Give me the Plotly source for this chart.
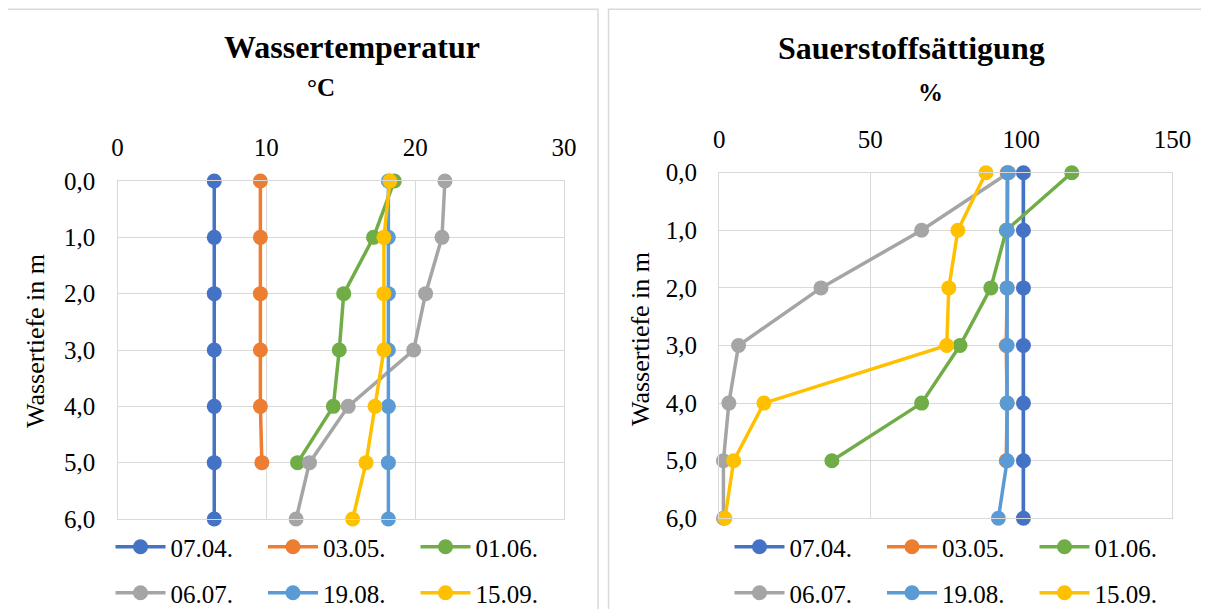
import plotly.graph_objects as go

W, H = 1209, 609

# ---- data ----
depth = [0, 1, 2, 3, 4, 5, 6]
depth_ticks = [0, 1, 2, 3, 4, 5, 6]
series_names = ["07.04.", "03.05.", "01.06.", "06.07.", "19.08.", "15.09."]
colors = ["#4472C4", "#ED7D31", "#70AD47", "#A5A5A5", "#5B9BD5", "#FFC000"]

# Wassertemperatur (°C)
temp_0704 = [6.5, 6.5, 6.5, 6.5, 6.5, 6.5, 6.5]
temp_0305 = [9.6, 9.6, 9.6, 9.6, 9.6, 9.7]
temp_0106 = [18.6, 17.2, 15.2, 14.9, 14.5, 12.1]
temp_0607 = [22.0, 21.8, 20.7, 19.9, 15.5, 12.9, 12.0]
temp_1908 = [18.2, 18.2, 18.2, 18.2, 18.2, 18.2, 18.2]
temp_1509 = [18.3, 17.9, 17.9, 17.9, 17.3, 16.7, 15.8]

# Sauerstoffsättigung (%)
oxy_0704 = [100.7, 100.7, 100.7, 100.7, 100.7, 100.7, 100.7]
oxy_0305 = [95.3, 95.3, 95.3, 95.0, 95.3, 95.0]
oxy_0106 = [116.7, 95.0, 89.9, 79.7, 67.0, 37.3]
oxy_0607 = [95.8, 67.0, 33.7, 6.4, 3.2, 1.4, 1.4]
oxy_1908 = [95.5, 95.3, 95.3, 95.3, 95.3, 95.3, 92.4]
oxy_1509 = [88.3, 79.0, 76.0, 75.3, 14.8, 4.8, 1.9]

temp_series = [temp_0704, temp_0305, temp_0106, temp_0607, temp_1908, temp_1509]
oxy_series = [oxy_0704, oxy_0305, oxy_0106, oxy_0607, oxy_1908, oxy_1509]

FONT = "Liberation Serif"
GRID = "#d9d9d9"
OFF = 8  # page body margin in the browser

def px(x):
    return (x - OFF) / W

def py(y):
    return (H - (y - OFF)) / H

fig = go.Figure()

for i, (name, col, vals) in enumerate(zip(series_names, colors, temp_series)):
    fig.add_trace(go.Scatter(
        x=vals, y=depth[:len(vals)], name=name, mode="lines+markers",
        line=dict(color=col, width=3.5), marker=dict(color=col, size=15),
        xaxis="x", yaxis="y", cliponaxis=False,
        legend="legend" if i < 3 else "legend2",
    ))

for i, (name, col, vals) in enumerate(zip(series_names, colors, oxy_series)):
    fig.add_trace(go.Scatter(
        x=vals, y=depth[:len(vals)], name=name, mode="lines+markers",
        line=dict(color=col, width=3.5), marker=dict(color=col, size=15),
        xaxis="x2", yaxis="y2", cliponaxis=False,
        legend="legend3" if i < 3 else "legend4",
    ))

tickfont = dict(family=FONT, size=25, color="#000000")

def xax(domain, rng, dtick, anchor):
    return dict(domain=domain, range=rng, dtick=dtick, side="top", anchor=anchor,
                showgrid=True, gridcolor=GRID, gridwidth=1.3, zeroline=False,
                showline=True, mirror=True, linecolor=GRID, linewidth=1.3,
                ticks="", tickfont=tickfont, ticklabelstandoff=14, fixedrange=True,
                automargin=False)

def yax(domain, anchor):
    return dict(domain=domain, range=[6, 0], tickvals=depth_ticks, tickformat=".1f",
                anchor=anchor, showgrid=True, gridcolor=GRID, gridwidth=1.3,
                zeroline=False, showline=True, mirror=True, linecolor=GRID,
                linewidth=1.3, ticks="", tickfont=tickfont, ticklabelstandoff=16,
                fixedrange=True, automargin=False)

legfont = dict(family=FONT, size=25, color="#000000")

def leg(x, y):
    return dict(orientation="h", x=px(x), y=py(y), xanchor="left", yanchor="middle",
                font=legfont, itemwidth=50, entrywidth=87.5, entrywidthmode="pixels",
                bgcolor="rgba(0,0,0,0)", itemclick=False, itemdoubleclick=False,
                tracegroupgap=0)

fig.update_layout(
    width=W, height=H,
    margin=dict(l=0, r=0, t=0, b=0, autoexpand=False),
    paper_bgcolor="white", plot_bgcolor="white",
    separators=",.",
    font=dict(family=FONT, color="#000000"),
    xaxis=xax([px(117.5), px(564)], [0, 30], 10, "y"),
    yaxis=yax([py(519), py(181)], "x"),
    xaxis2=xax([px(719.2), px(1172.4)], [0, 150], 50, "y2"),
    yaxis2=yax([py(518.3), py(172.7)], "x2"),
    legend=leg(110.5, 547),
    legend2=leg(110.5, 593),
    legend3=leg(729.5, 547),
    legend4=leg(729.5, 593),
    showlegend=True,
)

shapes = [
    dict(type="rect", xref="paper", yref="paper", x0=px(7), x1=px(598), y0=py(640), y1=py(9.3),
         line=dict(color=GRID, width=1.5), fillcolor="rgba(0,0,0,0)", layer="below"),
    dict(type="rect", xref="paper", yref="paper", x0=px(608.5), x1=px(1240), y0=py(640), y1=py(9.3),
         line=dict(color=GRID, width=1.5), fillcolor="rgba(0,0,0,0)", layer="below"),
]
fig.update_layout(shapes=shapes)

ann = [
    dict(text="<b>Wassertemperatur</b>", x=px(352), y=py(47), size=32),
    dict(text="<b>°C</b>", x=px(321), y=py(88), size=25),
    dict(text="<b>Sauerstoffsättigung</b>", x=px(911.6), y=py(48), size=32),
    dict(text="<b>%</b>", x=px(930), y=py(92), size=25),
]
for a in ann:
    fig.add_annotation(text=a["text"], x=a["x"], y=a["y"], xref="paper", yref="paper",
                       xanchor="center", yanchor="middle", showarrow=False,
                       font=dict(family=FONT, size=a["size"], color="#000000"))

for xc, yc in [(35, 341), (640, 339)]:
    fig.add_annotation(text="Wassertiefe in m", x=px(xc), y=py(yc), xref="paper", yref="paper",
                       xanchor="center", yanchor="middle", showarrow=False, textangle=-90,
                       font=dict(family=FONT, size=26, color="#000000"))

fig.write_html("out.html")
